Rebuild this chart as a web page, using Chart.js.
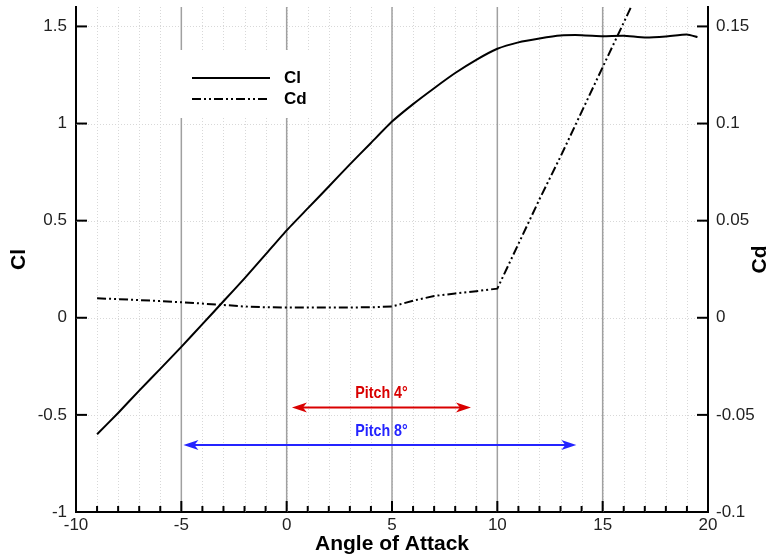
<!DOCTYPE html>
<html>
<head>
<meta charset="utf-8">
<script src="https://cdn.jsdelivr.net/npm/chart.js@4/dist/chart.umd.min.js"></script>
<style>
  html, body { margin: 0; padding: 0; background: #fff; }
  #wrap { width: 780px; height: 560px; }
</style>
</head>
<body>
<div id="wrap"><canvas id="chart" width="780" height="560"></canvas></div>
<script>
// lift curve
const clAngles = [-9, -8, -7, -6, -5, -4, -3, -2, -1, 0, 1, 2, 3, 4, 5, 6, 7, 8, 9, 10, 11, 12, 13, 14, 15, 16, 17, 18, 19, 19.5];
const clValues = [-0.6, -0.49, -0.375, -0.263, -0.15, -0.033, 0.085, 0.203, 0.326, 0.45, 0.563, 0.676, 0.79, 0.9, 1.01, 1.1, 1.182, 1.26, 1.328, 1.385, 1.418, 1.438, 1.453, 1.455, 1.45, 1.452, 1.443, 1.448, 1.458, 1.445];

// drag curve
const cdAngles = [-9, -8, -7, -6, -5, -4, -3, -2, -1, 0, 1, 2, 3, 4, 5, 6, 7, 8, 9, 10, 11, 12, 13, 14, 15, 16, 17];
const cdValues = [0.01, 0.0096, 0.0091, 0.0086, 0.008, 0.0073, 0.0066, 0.0058, 0.0054, 0.0053, 0.0053, 0.0053, 0.0053, 0.0054, 0.0058, 0.0088, 0.0112, 0.0125, 0.0137, 0.015, 0.038, 0.061, 0.083, 0.106, 0.129, 0.152, 0.175];

// tick labels
const xTicks = [-10, -5, 0, 5, 10, 15, 20];
const clTicks = [-1, -0.5, 0, 0.5, 1, 1.5];
const clTickLabels = ["-1", "-0.5", "0", "0.5", "1", "1.5"];
const cdTicks = [-0.1, -0.05, 0, 0.05, 0.1, 0.15];
const cdTickLabels = ["-0.1", "-0.05", "0", "0.05", "0.1", "0.15"];

// pitch range arrows
const pitchLabels = ["Pitch 4°", "Pitch 8°"];
const pitchFrom = [0.25, -4.9];
const pitchTo = [8.75, 13.75];
const pitchLevel = [-0.462, -0.655];
const pitchColors = ["#d90000", "#2424ff"];

const FONT = "'Liberation Sans', Arial, Helvetica, sans-serif";

function arrowHead(ctx, x, y, dir, color) {
  ctx.fillStyle = color;
  ctx.beginPath();
  ctx.moveTo(x, y);
  ctx.lineTo(x - dir * 15, y - 5);
  ctx.lineTo(x - dir * 11, y);
  ctx.lineTo(x - dir * 15, y + 5);
  ctx.closePath();
  ctx.fill();
}

const decorPlugin = {
  id: "decor",
  beforeDatasetsDraw(chart) {
    const { ctx, chartArea: area, scales } = chart;
    const xs = scales.x;
    const ys = scales.y;
    ctx.save();

    // dotted minor grid
    ctx.strokeStyle = "#d8d8d8";
    ctx.lineWidth = 1;
    ctx.setLineDash([1, 2]);
    for (let v = xs.min + 1; v < xs.max; v++) {
      const px = Math.round(xs.getPixelForValue(v)) + 0.5;
      ctx.beginPath();
      ctx.moveTo(px, area.top);
      ctx.lineTo(px, area.bottom);
      ctx.stroke();
    }
    clTicks.forEach((v) => {
      if (v <= ys.min) return;
      const py = Math.round(ys.getPixelForValue(v)) + 0.5;
      ctx.beginPath();
      ctx.moveTo(area.left, py);
      ctx.lineTo(area.right, py);
      ctx.stroke();
    });
    ctx.setLineDash([]);

    // solid major verticals
    ctx.strokeStyle = "#a0a0a0";
    ctx.lineWidth = 1.5;
    xTicks.slice(1, -1).forEach((v) => {
      const px = xs.getPixelForValue(v);
      ctx.beginPath();
      ctx.moveTo(px, area.top);
      ctx.lineTo(px, area.bottom);
      ctx.stroke();
    });

    // legend box
    const lx = area.left + 104;
    const ly = area.top + 43;
    ctx.fillStyle = "#fff";
    ctx.fillRect(lx, ly, 134, 68);
    ctx.strokeStyle = "#000";
    ctx.lineWidth = 2;
    ctx.beginPath();
    ctx.moveTo(lx + 12, ly + 28);
    ctx.lineTo(lx + 90, ly + 28);
    ctx.stroke();
    ctx.setLineDash([9, 3, 2, 3, 2, 3]);
    ctx.beginPath();
    ctx.moveTo(lx + 12, ly + 49);
    ctx.lineTo(lx + 90, ly + 49);
    ctx.stroke();
    ctx.setLineDash([]);
    ctx.fillStyle = "#000";
    ctx.font = "bold 17px " + FONT;
    ctx.textAlign = "left";
    ctx.textBaseline = "middle";
    ctx.fillText("Cl", lx + 104, ly + 28);
    ctx.fillText("Cd", lx + 104, ly + 49);
    ctx.restore();
  },
  afterDraw(chart) {
    const { ctx, chartArea: area, scales } = chart;
    const xs = scales.x;
    const ys = scales.y;
    const y1 = scales.y1;
    ctx.save();

    // pitch arrows
    pitchLabels.forEach((label, i) => {
      const x0 = xs.getPixelForValue(pitchFrom[i]);
      const x1 = xs.getPixelForValue(pitchTo[i]);
      const py = ys.getPixelForValue(pitchLevel[i]);
      ctx.strokeStyle = pitchColors[i];
      ctx.lineWidth = 2;
      ctx.beginPath();
      ctx.moveTo(x0 + 10, py);
      ctx.lineTo(x1 - 10, py);
      ctx.stroke();
      arrowHead(ctx, x0, py, -1, pitchColors[i]);
      arrowHead(ctx, x1, py, 1, pitchColors[i]);
      // label is a little condensed in the source
      ctx.save();
      ctx.translate(xs.getPixelForValue(4.5), py - 14);
      ctx.scale(0.84, 1);
      ctx.fillStyle = pitchColors[i];
      ctx.font = "bold 17px " + FONT;
      ctx.textAlign = "center";
      ctx.textBaseline = "middle";
      ctx.fillText(label, 0, 0);
      ctx.restore();
    });

    // inward tick marks
    ctx.strokeStyle = "#000";
    ctx.lineWidth = 2;
    for (let v = xs.min + 1; v < xs.max; v++) {
      const px = xs.getPixelForValue(v);
      const len = v % 5 === 0 ? 11 : 6;
      ctx.beginPath();
      ctx.moveTo(px, area.bottom);
      ctx.lineTo(px, area.bottom - len);
      ctx.stroke();
    }
    clTicks.forEach((v) => {
      const py = ys.getPixelForValue(v);
      ctx.beginPath();
      ctx.moveTo(area.left, py);
      ctx.lineTo(area.left + 11, py);
      ctx.stroke();
    });
    cdTicks.forEach((v) => {
      const py = y1.getPixelForValue(v);
      ctx.beginPath();
      ctx.moveTo(area.right, py);
      ctx.lineTo(area.right - 11, py);
      ctx.stroke();
    });

    // right axis title, reading upward
    ctx.fillStyle = "#000";
    ctx.font = "bold 21px " + FONT;
    ctx.translate(760, (area.top + area.bottom) / 2);
    ctx.rotate(-Math.PI / 2);
    ctx.textAlign = "center";
    ctx.textBaseline = "middle";
    ctx.fillText("Cd", 0, 0);
    ctx.restore();
  },
};

const tickFont = { family: FONT, size: 17 };
const titleFont = { family: FONT, size: 21, weight: "bold" };

function noVerticalPadding(scale) {
  scale.paddingTop = 0;
  scale.paddingBottom = 0;
}

new Chart(document.getElementById("chart"), {
  type: "line",
  data: {
    datasets: [
      {
        label: "Cl",
        data: clAngles.map((a, i) => ({ x: a, y: clValues[i] })),
        yAxisID: "y",
        borderColor: "#000",
        borderWidth: 2,
        pointRadius: 0,
        tension: 0.15,
      },
      {
        label: "Cd",
        data: cdAngles.map((a, i) => ({ x: a, y: cdValues[i] })),
        yAxisID: "y1",
        borderColor: "#000",
        borderWidth: 2,
        borderDash: [9, 3, 2, 3, 2, 3],
        pointRadius: 0,
        tension: 0,
      },
    ],
  },
  options: {
    responsive: false,
    animation: false,
    layout: { padding: { top: 7, left: 0, right: 0, bottom: 0 } },
    plugins: {
      legend: { display: false },
      tooltip: { enabled: false },
    },
    scales: {
      x: {
        type: "linear",
        min: -10,
        max: 20,
        afterBuildTicks: (scale) => {
          scale.ticks = xTicks.map((v) => ({ value: v }));
        },
        afterFit: (scale) => {
          scale.height = 48;
          scale.paddingLeft = 0;
          scale.paddingRight = 0;
        },
        ticks: { font: tickFont, color: "#222", padding: 3, maxRotation: 0, autoSkip: false },
        grid: { display: false, drawTicks: false, tickLength: 0 },
        border: { display: true, color: "#000", width: 2 },
        title: { display: true, text: "Angle of Attack", font: titleFont, color: "#000", padding: { top: 0, bottom: 3 } },
      },
      y: {
        type: "linear",
        position: "left",
        min: -1,
        max: 1.6,
        afterBuildTicks: (scale) => {
          scale.ticks = clTicks.map((v) => ({ value: v }));
        },
        afterFit: (scale) => {
          scale.width = 76;
          noVerticalPadding(scale);
        },
        ticks: {
          font: tickFont,
          color: "#222",
          padding: 9,
          callback: (value) => clTickLabels[clTicks.indexOf(value)],
        },
        grid: { display: false, drawTicks: false, tickLength: 0 },
        border: { display: true, color: "#000", width: 2 },
        title: { display: true, text: "Cl", font: titleFont, color: "#000", padding: { top: 7, bottom: 0 } },
      },
      y1: {
        type: "linear",
        position: "right",
        min: -0.1,
        max: 0.16,
        afterBuildTicks: (scale) => {
          scale.ticks = cdTicks.map((v) => ({ value: v }));
        },
        afterFit: (scale) => {
          scale.width = 72;
          noVerticalPadding(scale);
        },
        ticks: {
          font: tickFont,
          color: "#222",
          padding: 8,
          callback: (value) => cdTickLabels[cdTicks.indexOf(value)],
        },
        grid: { display: false, drawTicks: false, tickLength: 0 },
        border: { display: true, color: "#000", width: 2 },
      },
    },
  },
  plugins: [decorPlugin],
});
</script>
</body>
</html>
